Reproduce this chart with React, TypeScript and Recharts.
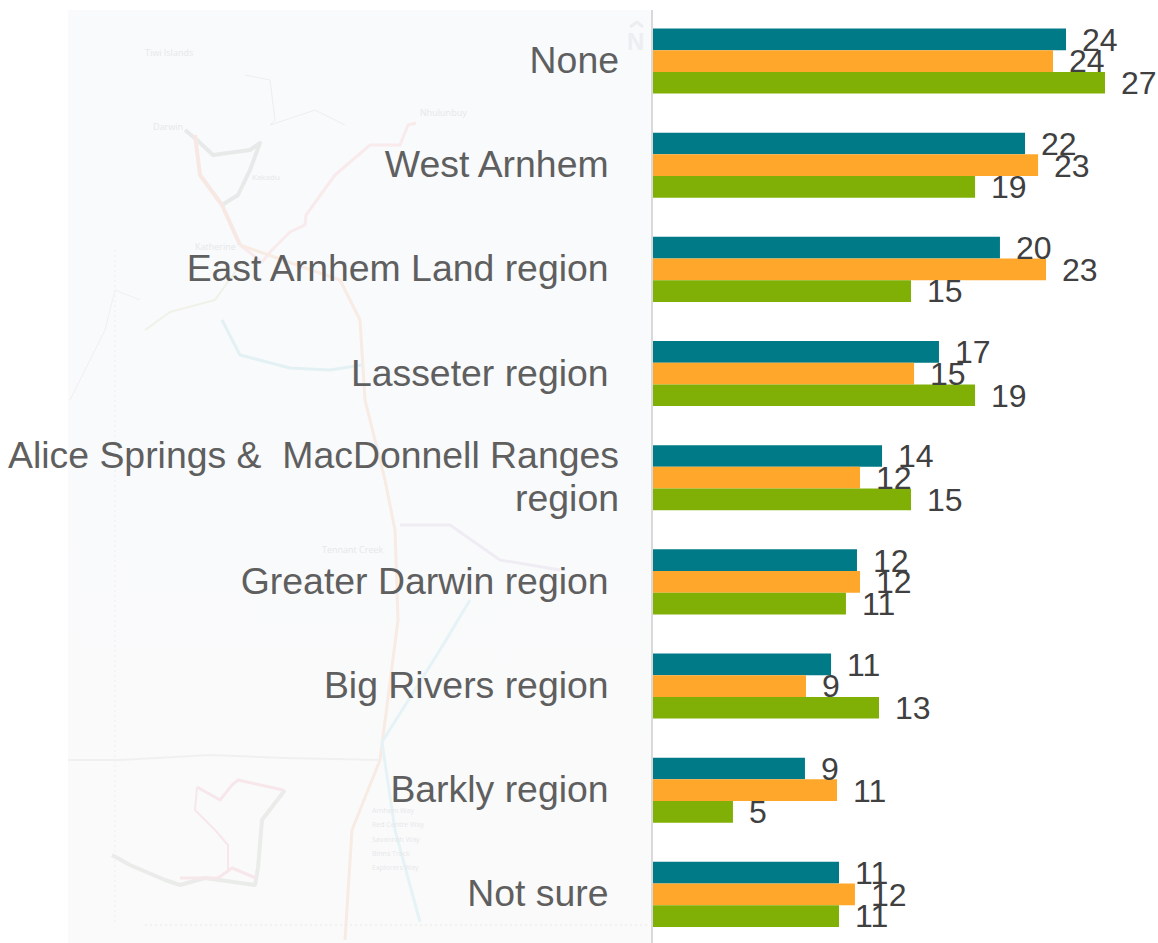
import { BarChart, Bar, XAxis, YAxis, LabelList } from 'recharts'

const categories = [
    'None',
    'West Arnhem ',
    'East Arnhem Land region ',
    'Lasseter region ',
    'Alice Springs &  MacDonnell Ranges\nregion',
    'Greater Darwin region ',
    'Big Rivers region ',
    'Barkly region ',
    'Not sure ',
]

const tealValues = [24.38, 21.96, 20.48, 16.88, 13.52, 12.04, 10.51, 8.97, 10.98]
const orangeValues = [23.61, 22.73, 23.2, 15.41, 12.22, 12.22, 9.03, 10.86, 11.92]
const greenValues = [26.68, 19.01, 15.23, 19.01, 15.23, 11.39, 13.34, 4.72, 10.98]

const data = categories.map((name, i) => ({
    name,
    teal: tealValues[i],
    orange: orangeValues[i],
    green: greenValues[i],
}))

// faint tourist map that sits behind the labels
const mapRoads = [
    { d: 'M185 130 L197 140 L213 155 L250 150 L260 143 L250 170 L238 195 L222 205', color: '#e8eaea', w: 4 },
    { d: 'M195 135 L200 175 L222 205 L240 245', color: '#f7e8e4', w: 4 },
    { d: 'M240 245 L262 262 L272 250 L290 232 L305 225 L306 215 L335 175 L370 145 L400 145 L408 125 L416 123', color: '#f9eaec', w: 3 },
    { d: 'M240 245 L340 280 L360 320 L365 400 L385 480 L395 530 L398 620 L380 760 L352 830 L345 940', color: '#f7ebe4', w: 3 },
    { d: 'M222 320 L240 355 L290 368 L330 370 L362 365', color: '#e3f1f4', w: 3 },
    { d: 'M145 330 L170 312 L215 300 L240 265', color: '#f0f2e9', w: 2 },
    { d: 'M470 600 L440 650 L382 742 L395 830 L420 922', color: '#e6f3f6', w: 3 },
    { d: 'M400 525 L450 525 L500 560 L560 570', color: '#f0ecf4', w: 3 },
    { d: 'M112 855 L130 865 L165 880 L180 885 L205 878 L255 885 L258 868 L262 820 L285 790', color: '#e9ece9', w: 4 },
    { d: 'M180 878 L218 878 L232 868 L256 878', color: '#f7e7ea', w: 3 },
    { d: 'M197 787 L220 800 L232 785 L238 780 L283 790', color: '#f7e7ea', w: 3 },
    { d: 'M197 787 L195 810 L215 830 L228 845 L228 870', color: '#f7e7ea', w: 2 },
    { d: 'M68 760 L120 760 L210 755 L285 758 L380 760', color: '#f0f0f0', w: 2 },
    { d: 'M140 300 L115 290 L105 330 L70 400', color: '#f0f0f0', w: 1 },
    { d: 'M245 75 L270 80 L275 120 L270 125 L315 110 L345 125', color: '#eeeeee', w: 1 },
    { d: 'M145 925 L650 925', color: '#e8e8e8', w: 1, dash: '2 3' },
    { d: 'M115 250 L115 925', color: '#eeeeee', w: 1, dash: '2 3' },
    { d: 'M630 27 L637 22 L643 27', color: '#eceef2', w: 3 },
]

const mapNames = [
    { t: 'Tiwi Islands', x: 145, y: 56, s: 9 },
    { t: 'Nhulunbuy', x: 420, y: 116, s: 9 },
    { t: 'Darwin', x: 153, y: 130, s: 9 },
    { t: 'Kakadu', x: 252, y: 180, s: 8 },
    { t: 'Katherine', x: 195, y: 250, s: 9 },
    { t: 'Tennant Creek', x: 322, y: 553, s: 9 },
    { t: 'Arnhem Way', x: 372, y: 813, s: 7 },
    { t: 'Red Centre Way', x: 372, y: 827, s: 7 },
    { t: 'Savannah Way', x: 372, y: 842, s: 7 },
    { t: 'Binns Track', x: 372, y: 856, s: 7 },
    { t: 'Explorers Way', x: 372, y: 870, s: 7 },
]

const MapBackdrop = () => {
    return (
        <svg width={1158} height={943} style={{ position: 'absolute', left: 0, top: 0 }}>
            <defs>
                <linearGradient id="panel" x1="0" y1="0" x2="0" y2="1">
                    <stop offset="0" stopColor="#f8fafc" />
                    <stop offset="0.5" stopColor="#f9fafb" />
                    <stop offset="1" stopColor="#fafafa" />
                </linearGradient>
            </defs>
            <rect x={68} y={10} width={583} height={933} fill="url(#panel)" />
            {mapRoads.map((r, i) => (
                <path key={i} d={r.d} fill="none" stroke={r.color} strokeWidth={r.w} strokeDasharray={r.dash} strokeLinejoin="round" />
            ))}
            {mapNames.map((n, i) => (
                <text key={i} x={n.x} y={n.y} fontSize={n.s} fill="#e6e8ea" fontFamily="'Open Sans', sans-serif">{n.t}</text>
            ))}
            <text x={627} y={50} fontSize={24} fontWeight={700} fill="#eceef2" fontFamily="'Liberation Sans', sans-serif">N</text>
            <line x1={652} y1={10} x2={652} y2={943} stroke="#d9d9d9" strokeWidth={2} />
        </svg>
    )
}

const CategoryTick = (props: any) => {
    const { x, y, payload } = props
    const lines = String(payload?.value).split('\n')
    const top = y - ((lines.length - 1) * 43) / 2

    return (
        <text x={x} y={top} fill="#5f5f5f" fontSize={37.4} textAnchor="end" fontFamily="'Liberation Sans', Arial, sans-serif" style={{ whiteSpace: 'pre' }}>
            {lines.map((line, i) => (
                <tspan key={i} x={x} y={top + i * 43} dy={12.5}>{line}</tspan>
            ))}
        </text>
    )
}

const roundLabel = (v: any) => Math.round(Number(v))
const labelStyle = { fill: '#404040', fontSize: 32, fontFamily: "'Liberation Sans', Arial, sans-serif" }

const App = () => {
    return (
        <div style={{ position: 'absolute', left: 0, top: 0, width: 1158, height: 943, overflow: 'hidden', background: '#fff' }}>
            <MapBackdrop />
            <div style={{ position: 'absolute', left: 0, top: 0 }}>
                <BarChart
                    width={1158}
                    height={947}
                    data={data}
                    layout="vertical"
                    barSize={21.7}
                    barGap={0}
                    margin={{ top: 8.5, right: 13.7, bottom: 1, left: 0 }}
                >
                    <XAxis type="number" domain={[0, 29]} hide />
                    <YAxis
                        type="category"
                        dataKey="name"
                        width={653}
                        interval={0}
                        axisLine={false}
                        tickLine={false}
                        tickMargin={0}
                        tickSize={34}
                        tick={<CategoryTick />}
                    />
                    <Bar dataKey="teal" fill="#007a87" isAnimationActive={false}>
                        <LabelList dataKey="teal" position="right" offset={16} formatter={roundLabel} style={labelStyle} />
                    </Bar>
                    <Bar dataKey="orange" fill="#ffa72a" isAnimationActive={false}>
                        <LabelList dataKey="orange" position="right" offset={16} formatter={roundLabel} style={labelStyle} />
                    </Bar>
                    <Bar dataKey="green" fill="#80b006" isAnimationActive={false}>
                        <LabelList dataKey="green" position="right" offset={16} formatter={roundLabel} style={labelStyle} />
                    </Bar>
                </BarChart>
            </div>
        </div>
    )
}

export default App
